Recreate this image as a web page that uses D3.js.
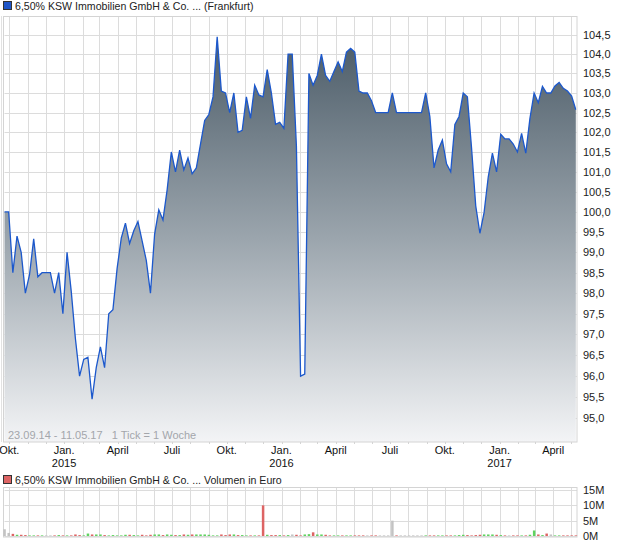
<!DOCTYPE html>
<html>
<head>
<meta charset="utf-8">
<script src="https://cdn.jsdelivr.net/npm/d3@7.9.0/dist/d3.min.js"></script>
<style>
  body { margin: 0; background: #fff; }
  svg { display: block; font-family: "Liberation Sans", Arial, sans-serif; font-size: 11px; }
</style>
</head>
<body>
<svg id="chart" width="620" height="546"></svg>
<script>
const title = '6,50% KSW Immobilien GmbH & Co. ... (Frankfurt)';
const volumeTitle = '6,50% KSW Immobilien GmbH & Co. ... Volumen in Euro';
const rangeNote = '23.09.14 - 11.05.17   1 Tick = 1 Woche';

const firstWeek = new Date(2014, 8, 23);
const lastDay = new Date(2017, 4, 11);

// weekly closing prices, one per week starting 23.09.14
const prices = [
  100.0, 100.0, 98.5, 99.4, 99.0, 98.0, 98.45, 99.33, 98.4, 98.5,
  98.5, 98.5, 98.0, 98.5, 97.5, 99.0, 98.05, 96.9, 96.0, 96.4,
  96.45, 95.45, 96.2, 96.7, 96.2, 97.5, 97.6, 98.6, 99.35, 99.72,
  99.22, 99.53, 99.76, 99.28, 98.8, 98.0, 99.45, 100.05, 99.8, 100.55,
  101.5, 101.0, 101.55, 101.05, 101.35, 100.95, 101.1, 101.7, 102.3, 102.45,
  102.9, 104.45, 103.05, 103.0, 102.5, 103.0, 102.0, 102.05, 102.9, 102.35,
  103.2, 102.95, 102.9, 103.6, 103.0, 102.2, 102.25, 102.1, 104.0, 104.0,
  101.65, 96.0, 96.05, 103.5, 103.2, 103.45, 104.0, 103.45, 103.3, 103.55,
  103.8, 103.55, 104.05, 104.15, 104.05, 103.05, 103.0, 103.0, 102.8, 102.5,
  102.5, 102.5, 102.5, 103.0, 102.5, 102.5, 102.5, 102.5, 102.5, 102.5,
  102.5, 103.0, 102.4, 101.1, 101.55, 101.8, 101.2, 101.0, 102.2, 102.4,
  103.0, 102.9, 101.6, 100.15, 99.47, 99.98, 100.87, 101.47, 101.0, 101.95,
  101.83, 101.83, 101.7, 101.5, 101.97, 101.47, 102.35, 103.0, 102.75, 103.17,
  103.0, 103.0, 103.18, 103.27, 103.12, 103.05, 102.92, 102.57
];

// weekly volume in million euro
const volumes = [
  2.2, 1.0, 0.7, 0.4, 0.4, 0.3, 0.2, 0.2, 0.2, 0.2,
  0.2, 0.2, 0.2, 0.3, 0.2, 0.2, 0.2, 0.5, 0.3, 0.2,
  0.8, 0.5, 0.5, 0.5, 0.3, 0.2, 0.3, 0.2, 0.2, 0.4,
  0.4, 0.3, 0.2, 0.4, 0.2, 0.4, 0.5, 0.5, 0.3, 0.5,
  0.4, 0.3, 0.3, 0.5, 0.4, 0.5, 0.5, 0.5, 0.5, 0.4,
  0.2, 0.2, 0.5, 0.3, 0.5, 0.5, 0.3, 0.3, 0.2, 0.2,
  0.2, 0.2, 10.0, 0.4, 0.3, 0.3, 0.3, 0.2, 0.3, 0.5,
  0.4, 0.2, 0.5, 0.6, 1.2, 0.5, 0.5, 0.4, 0.2, 0.2,
  0.2, 0.2, 0.2, 0.2, 0.2, 0.2, 0.2, 0.2, 0.2, 0.2,
  0.2, 0.2, 0.2, 5.0, 0.2, 0.2, 0.2, 0.2, 0.2, 0.2,
  0.2, 0.2, 0.2, 0.2, 0.2, 0.2, 0.2, 0.2, 0.2, 0.3,
  0.4, 0.3, 0.2, 0.3, 0.4, 0.5, 0.5, 0.5, 0.4, 0.3,
  0.2, 0.2, 0.2, 0.2, 0.2, 0.2, 0.4, 1.8, 0.5, 0.3,
  0.8, 0.5, 0.2, 0.2, 0.2, 0.2, 0.2, 0.2
];
// weeks whose volume bar is shown as unchanged (grey) although the line moves inside the week
const unchangedWeeks = [93];

const priceTicks = [95, 95.5, 96, 96.5, 97, 97.5, 98, 98.5, 99, 99.5,
  100, 100.5, 101, 101.5, 102, 102.5, 103, 103.5, 104, 104.5];
const volumeTicks = [0, 5, 10, 15];
const monthNames = { 0: 'Jan.', 3: 'April', 6: 'Juli', 9: 'Okt.' };

const data = prices.map((p, i) => ({
  date: d3.timeDay.offset(firstWeek, 7 * i),
  price: p,
  volume: volumes[i],
  change: i === 0 || unchangedWeeks.includes(i) ? 0 : Math.sign(p - prices[i - 1])
}));

const svg = d3.select('#chart');
const left = 4.5, right = 577;

const x = d3.scaleTime().domain([firstWeek, lastDay]).range([left, right]);
const y = d3.scaleLog().domain([94.44, 104.99]).range([442, 16]);
const yVol = d3.scaleLinear().domain([0, 15]).range([536, 490]);

const fmt = d3.formatLocale({ decimal: ',', thousands: '.', grouping: [3], currency: ['', '€'] }).format('.1f');
const months = d3.timeMonth.range(d3.timeMonth.ceil(firstWeek), lastDay);

// legend
function legend(yPos, color, text) {
  svg.append('rect').attr('x', 3.5).attr('y', yPos - 8.5).attr('width', 8).attr('height', 8)
    .attr('fill', color).attr('stroke', '#333');
  svg.append('text').attr('x', 15).attr('y', yPos).attr('fill', '#222')
    .style('font-size', '10.6px').text(text);
}
legend(10, '#1f56c9', title);

// price panel grid
const main = svg.append('g');
main.append('rect').attr('x', left).attr('y', 16).attr('width', right - left).attr('height', 426)
  .attr('fill', '#fff');
main.selectAll('.hg').data(priceTicks).join('line')
  .attr('x1', left).attr('x2', right)
  .attr('y1', d => Math.round(y(d)) + 0.5).attr('y2', d => Math.round(y(d)) + 0.5)
  .attr('stroke', '#dcdcdc');
main.selectAll('.vg').data(months).join('line')
  .attr('x1', d => Math.round(x(d)) + 0.5).attr('x2', d => Math.round(x(d)) + 0.5)
  .attr('y1', 16).attr('y2', 442)
  .attr('stroke', '#dcdcdc');

const grad = svg.append('defs').append('linearGradient')
  .attr('id', 'fillGrad').attr('gradientUnits', 'userSpaceOnUse')
  .attr('x1', 0).attr('x2', 0).attr('y1', 35).attr('y2', 442);
grad.append('stop').attr('offset', 0).attr('stop-color', '#4b5b67');
grad.append('stop').attr('offset', 0.5).attr('stop-color', '#9ba5ad');
grad.append('stop').attr('offset', 1).attr('stop-color', '#f3f4f6');

main.append('path').datum(data)
  .attr('fill', 'url(#fillGrad)')
  .attr('d', d3.area().x(d => x(d.date)).y0(442).y1(d => y(d.price)));
main.append('path').datum(data)
  .attr('fill', 'none').attr('stroke', '#1c58cc').attr('stroke-width', 1.3)
  .attr('d', d3.line().x(d => x(d.date)).y(d => y(d.price)));

main.append('text').attr('x', 8).attr('y', 438.5).attr('fill', '#a3a6ab')
  .attr('xml:space', 'preserve').text(rangeNote);

main.append('rect').attr('x', left - 1).attr('y', 16.5).attr('width', right - left + 1).attr('height', 425.5)
  .attr('fill', 'none').attr('stroke', '#d4d4d4');
main.append('line').attr('x1', 1.5).attr('x2', 1.5).attr('y1', 16).attr('y2', 442).attr('stroke', '#e2e2e2');

// right axis labels
main.selectAll('.yl').data(priceTicks).join('text')
  .attr('x', 583).attr('y', d => y(d) + 4).attr('fill', '#222').text(d => fmt(d));

// month ticks and labels
main.selectAll('.mt').data(months).join('line')
  .attr('x1', d => Math.round(x(d)) + 0.5).attr('x2', d => Math.round(x(d)) + 0.5)
  .attr('y1', 442).attr('y2', 444).attr('stroke', '#d4d4d4');
const labelled = months.filter(d => d.getMonth() % 3 === 0);
main.selectAll('.ml').data(labelled).join('text')
  .attr('x', d => Math.max(x(d), 9)).attr('y', 454).attr('text-anchor', 'middle').attr('fill', '#111')
  .text(d => monthNames[d.getMonth()]);
main.selectAll('.yr').data(labelled.filter(d => d.getMonth() === 0)).join('text')
  .attr('x', d => x(d)).attr('y', 467).attr('text-anchor', 'middle').attr('fill', '#111')
  .text(d => d.getFullYear());

// volume panel
legend(484, '#dd6464', volumeTitle);
const vol = svg.append('g');
vol.selectAll('.vh').data(volumeTicks).join('line')
  .attr('x1', left).attr('x2', right)
  .attr('y1', d => Math.round(yVol(d)) + 0.5).attr('y2', d => Math.round(yVol(d)) + 0.5)
  .attr('stroke', '#dcdcdc');
vol.selectAll('.vv').data(months).join('line')
  .attr('x1', d => Math.round(x(d)) + 0.5).attr('x2', d => Math.round(x(d)) + 0.5)
  .attr('y1', 487).attr('y2', 537)
  .attr('stroke', '#dcdcdc');
vol.append('rect').attr('x', left - 1).attr('y', 487.5).attr('width', right - left + 1).attr('height', 49.5)
  .attr('fill', 'none').attr('stroke', '#d4d4d4');
vol.selectAll('.bar').data(data).join('rect')
  .attr('x', d => x(d.date) - 1.2).attr('width', 2.5)
  .attr('y', d => yVol(d.volume)).attr('height', d => yVol(0) - yVol(d.volume))
  .attr('fill', d => d.change > 0 ? '#5fd35f' : d.change < 0 ? '#dd6464' : '#c3c3c3');
vol.selectAll('.vl').data(volumeTicks).join('text')
  .attr('x', 583).attr('y', d => yVol(d) + 4).attr('fill', '#222').text(d => d + 'M');
</script>
</body>
</html>
